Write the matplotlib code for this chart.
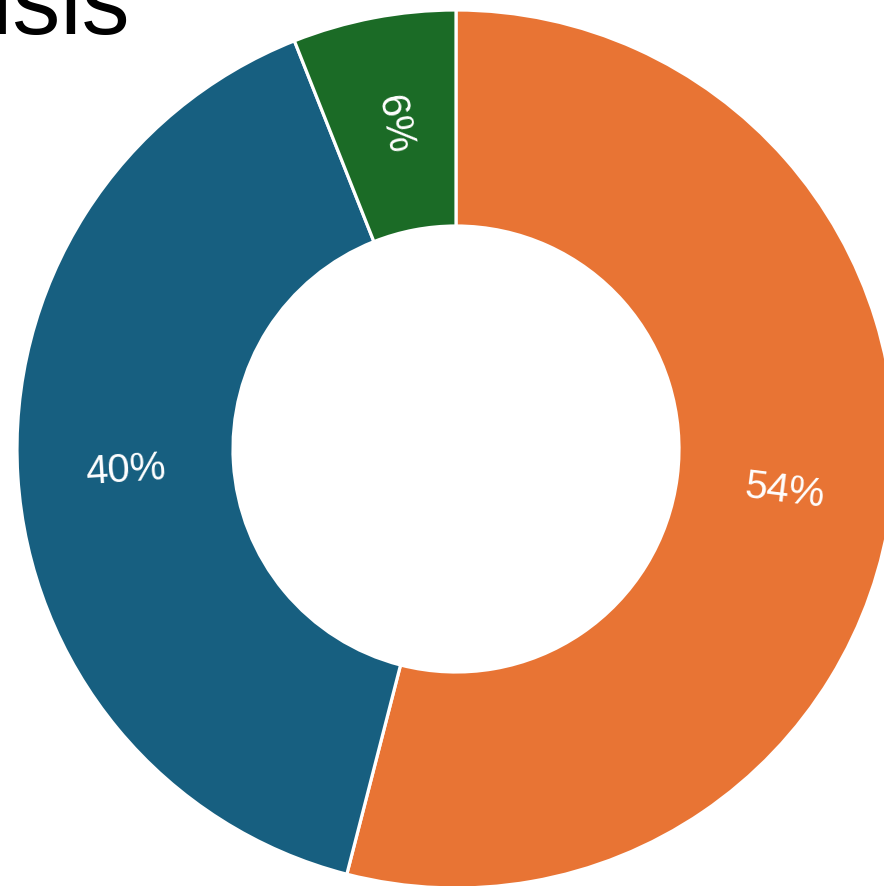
import numpy as np
import matplotlib.pyplot as plt

labels = ['Orange', 'Blue', 'Green']
values = [54, 40, 6]
colors = ['#E87434', '#175F80', '#1B6B26']
title = 'Crisis'

W, H = 884, 887
fig = plt.figure(figsize=(W / 100, H / 100), dpi=100)
ax = fig.add_axes([0, 0, 1, 1])

# donut in pixel units: center (456, 450 from top), outer r 439, inner r 223
wedges, texts, autotexts = ax.pie(
    values, colors=colors, startangle=90, counterclock=False,
    center=(456, H - 450), radius=439,
    autopct='%1.0f%%', pctdistance=331 / 439,
    wedgeprops=dict(width=216, edgecolor='white', linewidth=2.3),
    textprops=dict(color='white', fontsize=29, family='Liberation Sans'),
)

# radial label orientation
for w, t in zip(wedges, autotexts):
    mid = ((w.theta1 + w.theta2) / 2) % 360
    rot = mid
    if 90 < rot < 270:
        rot -= 180
    elif rot >= 270:
        rot -= 360
    t.set_rotation(rot)
    t.set_rotation_mode('anchor')
    t.set_ha('center')
    t.set_va('center')

ax.set_xlim(0, W)
ax.set_ylim(0, H)
ax.set_aspect('auto')
ax.axis('off')

fig.text(130 / W, 1 - 34 / H, title, ha='right', va='baseline',
         fontsize=69, family='Liberation Sans', color='black')

fig.savefig('out.png', dpi=100)
